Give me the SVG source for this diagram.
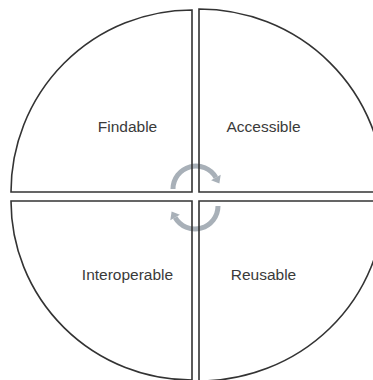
<svg xmlns="http://www.w3.org/2000/svg" width="373" height="380" viewBox="0 0 373 380">
<style>
.q{fill:none;stroke:#333;stroke-width:1.6}
.t{font-family:"Liberation Sans",Arial,sans-serif;font-size:15.5px;fill:#3a3a3a;text-anchor:middle}
.arc{fill:none;stroke:#a8b0b8;stroke-width:5}
.head{fill:#a8b0b8}
</style>
<rect width="373" height="380" fill="#fff"/>
<g id="connectors">
<g id="arrow-top">
<path class="arc" d="M173,189 A23,23 0 0 1 215.9,177.5"/>
<polygon class="head" points="220.7,174.8 211.1,180.3 219.4,183.6"/>
</g>
<g id="arrow-bottom">
<path class="arc" d="M218,206 A23,23 0 0 1 175.1,217.5"/>
<polygon class="head" points="170.3,220.3 179.9,214.7 171.6,211.4"/>
</g>
</g>
<g id="findable">
<path class="q" d="M192,192 L192,10 A181,182 0 0 0 11,192 Z"/>
<text class="t" x="127.5" y="132">Findable</text>
</g>
<g id="accessible">
<path class="q" d="M199,192 L199,9 A185,183 0 0 1 384,192 Z"/>
<text class="t" x="263.5" y="132">Accessible</text>
</g>
<g id="interoperable">
<path class="q" d="M192,201 L11,201 A181,179 0 0 0 192,380 Z"/>
<text class="t" x="127.5" y="280">Interoperable</text>
</g>
<g id="reusable">
<path class="q" d="M199,201 L199,381 A185,180 0 0 0 384,201 Z"/>
<text class="t" x="263.5" y="280">Reusable</text>
</g>
</svg>
